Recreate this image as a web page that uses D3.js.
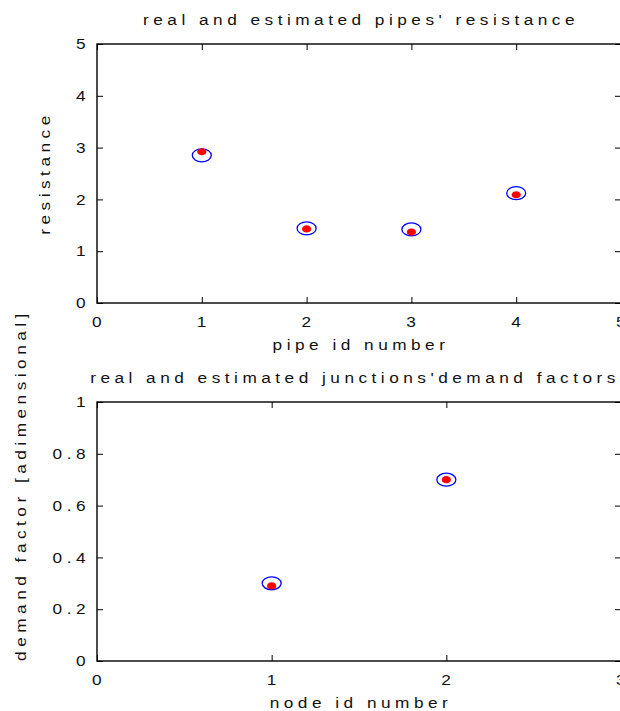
<!DOCTYPE html>
<html>
<head>
<meta charset="utf-8">
<script src="https://cdn.jsdelivr.net/npm/d3@7"></script>
<style>
  html, body { margin: 0; padding: 0; background: #fff; }
  svg { display: block; }
  text {
    font-family: "Liberation Sans", Arial, sans-serif;
    font-size: 15px;
    fill: #111;
    letter-spacing: 3.9px;
  }
</style>
</head>
<body>
<svg id="fig" width="620" height="711"></svg>
<script>
// Pipe resistances: real vs estimated
const pipeIds = [1, 2, 3, 4];
const pipeResistanceReal = [2.85, 1.44, 1.42, 2.12];
const pipeResistanceEst = [2.92, 1.43, 1.37, 2.09];
const pipeXTicks = [0, 1, 2, 3, 4, 5];
const pipeYTicks = [0, 1, 2, 3, 4, 5];

// Junction demand factors: real vs estimated
const nodeIds = [1, 2];
const demandReal = [0.30, 0.70];
const demandEst = [0.29, 0.70];
const nodeXTicks = [0, 1, 2, 3];
const nodeYTicks = [0, 0.2, 0.4, 0.6, 0.8, 1];

const svg = d3.select("#fig");
const SX = 1.15;     // horizontal stretch applied to the lettering
const TICK = 6;      // inward tick length

function label(str, x, y, opts = {}) {
  const rot = opts.rotate ? " rotate(-90)" : "";
  return svg.append("text")
    .attr("transform", `translate(${x},${y})${rot} scale(${SX},1)`)
    .attr("text-anchor", opts.anchor || "middle")
    .attr("dy", "0.35em")
    .text(str);
}

function panel(cfg) {
  const x = d3.scaleLinear().domain(cfg.xDomain).range([cfg.left, cfg.right]);
  const y = d3.scaleLinear().domain(cfg.yDomain).range([cfg.bottom, cfg.top]);

  const g = svg.append("g");
  const axes = [
    [d3.axisBottom(x).tickValues(cfg.xTicks), `translate(0,${cfg.bottom})`],
    [d3.axisTop(x).tickValues(cfg.xTicks), `translate(0,${cfg.top})`],
    [d3.axisLeft(y).tickValues(cfg.yTicks), `translate(${cfg.left},0)`],
    [d3.axisRight(y).tickValues(cfg.yTicks), `translate(${cfg.right},0)`]
  ];
  axes.forEach(([ax, tr]) => {
    const a = g.append("g").attr("transform", tr)
      .call(ax.tickSizeInner(-TICK).tickSizeOuter(0).tickFormat(""));
    a.select(".domain").remove();
    a.selectAll("line").attr("stroke", "#000").attr("stroke-width", 1);
  });

  // axes box
  g.append("rect")
    .attr("x", cfg.left).attr("y", cfg.top)
    .attr("width", cfg.right - cfg.left).attr("height", cfg.bottom - cfg.top)
    .attr("fill", "none").attr("stroke", "#000").attr("stroke-width", 1.4);

  // tick labels (the trailing letter-spacing is compensated on end-anchored text)
  cfg.xTicks.forEach(v => label(d3.format("")(v), x(v) + 2, cfg.bottom + 19));
  cfg.yTicks.forEach(v => label(d3.format("")(v), cfg.left - 7, y(v), { anchor: "end" }));

  // real values: open blue rings
  svg.append("g").selectAll("ellipse")
    .data(cfg.ids.map((id, i) => ({ id, v: cfg.real[i] })))
    .join("ellipse")
    .attr("cx", d => x(d.id)).attr("cy", d => y(d.v))
    .attr("rx", 9.5).attr("ry", 6.5)
    .attr("fill", "none").attr("stroke", "#0000ff").attr("stroke-width", 1.3);

  // estimated values: red dots
  svg.append("g").selectAll("ellipse")
    .data(cfg.ids.map((id, i) => ({ id, v: cfg.est[i] })))
    .join("ellipse")
    .attr("cx", d => x(d.id)).attr("cy", d => y(d.v))
    .attr("rx", 4.6).attr("ry", 3.6)
    .attr("fill", "#ff0000");

  const cx = (cfg.left + cfg.right) / 2 + 2;
  label(cfg.title, cx + (cfg.titleShift || 0), cfg.top - 24);
  label(cfg.xLabel, cx, cfg.bottom + 42);
  label(cfg.yLabel, cfg.yLabelX, cfg.yLabelY, { rotate: true });
}

panel({
  left: 97, right: 621, top: 44, bottom: 303,
  xDomain: [0, 5], yDomain: [0, 5],
  xTicks: pipeXTicks, yTicks: pipeYTicks,
  ids: pipeIds, real: pipeResistanceReal, est: pipeResistanceEst,
  title: "real and estimated pipes' resistance",
  xLabel: "pipe id number",
  yLabel: "resistance", yLabelX: 45, yLabelY: 173
});

panel({
  left: 97, right: 621, top: 402, bottom: 661,
  xDomain: [0, 3], yDomain: [0, 1],
  xTicks: nodeXTicks, yTicks: nodeYTicks,
  ids: nodeIds, real: demandReal, est: demandEst,
  title: "real and estimated junctions'demand factors", titleShift: -6,
  xLabel: "node id number",
  yLabel: "demand factor [adimensional]", yLabelX: 21, yLabelY: 485
});
</script>
</body>
</html>
